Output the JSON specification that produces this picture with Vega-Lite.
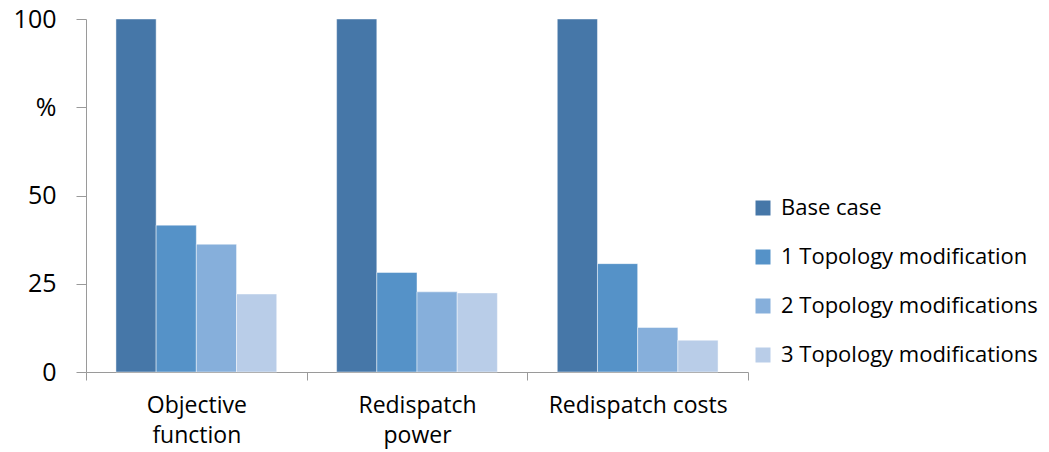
{
  "$schema": "https://vega.github.io/schema/vega-lite/v6.json",
  "width": 662,
  "height": 353,
  "autosize": {"type": "none"},
  "padding": {"left": 86, "top": 19, "right": 301, "bottom": 80},
  "background": "white",
  "config": {"view": {"stroke": null}, "font": "Open Sans"},
  "data": {
    "values": [
      {"metric": "Objective function", "series": "Base case", "value": 100},
      {"metric": "Objective function", "series": "1 Topology modification", "value": 41.6},
      {"metric": "Objective function", "series": "2 Topology modifications", "value": 36.2},
      {"metric": "Objective function", "series": "3 Topology modifications", "value": 22.1},
      {"metric": "Redispatch power", "series": "Base case", "value": 100},
      {"metric": "Redispatch power", "series": "1 Topology modification", "value": 28.2},
      {"metric": "Redispatch power", "series": "2 Topology modifications", "value": 22.7},
      {"metric": "Redispatch power", "series": "3 Topology modifications", "value": 22.4},
      {"metric": "Redispatch costs", "series": "Base case", "value": 100},
      {"metric": "Redispatch costs", "series": "1 Topology modification", "value": 30.7},
      {"metric": "Redispatch costs", "series": "2 Topology modifications", "value": 12.6},
      {"metric": "Redispatch costs", "series": "3 Topology modifications", "value": 9.0}
    ]
  },
  "mark": {"type": "bar", "stroke": "white", "strokeOpacity": 0.45, "strokeWidth": 1},
  "encoding": {
    "x": {
      "field": "metric",
      "type": "nominal",
      "sort": ["Objective function", "Redispatch power", "Redispatch costs"],
      "scale": {"paddingInner": 0, "paddingOuter": 0},
      "axis": {
        "title": null,
        "labelAngle": 0,
        "tickBand": "extent",
        "domainColor": "#9a9a9a",
        "tickColor": "#9a9a9a",
        "tickSize": 8,
        "labelFont": "Open Sans",
        "labelFontSize": 23,
        "labelColor": "black",
        "labelPadding": 14,
        "labelLineHeight": 30,
        "labelExpr": "datum.value == 'Objective function' ? ['Objective', 'function'] : datum.value == 'Redispatch power' ? ['Redispatch', 'power'] : datum.label"
      }
    },
    "xOffset": {
      "field": "series",
      "type": "nominal",
      "sort": ["Base case", "1 Topology modification", "2 Topology modifications", "3 Topology modifications"],
      "scale": {"paddingInner": 0, "paddingOuter": 0.745}
    },
    "y": {
      "field": "value",
      "type": "quantitative",
      "scale": {"domain": [0, 100], "nice": false},
      "axis": {
        "title": null,
        "values": [0, 25, 50, 75, 100],
        "labelExpr": "datum.value == 75 ? '%' : datum.label",
        "grid": false,
        "domainColor": "#9a9a9a",
        "tickColor": "#9a9a9a",
        "tickSize": 10,
        "labelPadding": 20,
        "labelFont": "Open Sans",
        "labelFontSize": 25,
        "labelColor": "black"
      }
    },
    "color": {
      "field": "series",
      "type": "nominal",
      "sort": ["Base case", "1 Topology modification", "2 Topology modifications", "3 Topology modifications"],
      "scale": {
        "domain": ["Base case", "1 Topology modification", "2 Topology modifications", "3 Topology modifications"],
        "range": ["#4677a8", "#5592c8", "#86afdb", "#b9cde8"]
      },
      "legend": {
        "title": null,
        "orient": "none",
        "legendX": 666,
        "legendY": 178,
        "symbolType": "square",
        "symbolSize": 225,
        "symbolStrokeWidth": 0,
        "labelFont": "Open Sans",
        "labelFontSize": 22,
        "labelColor": "black",
        "labelOffset": 7,
        "rowPadding": 27,
        "labelLimit": 400
      }
    }
  }
}
